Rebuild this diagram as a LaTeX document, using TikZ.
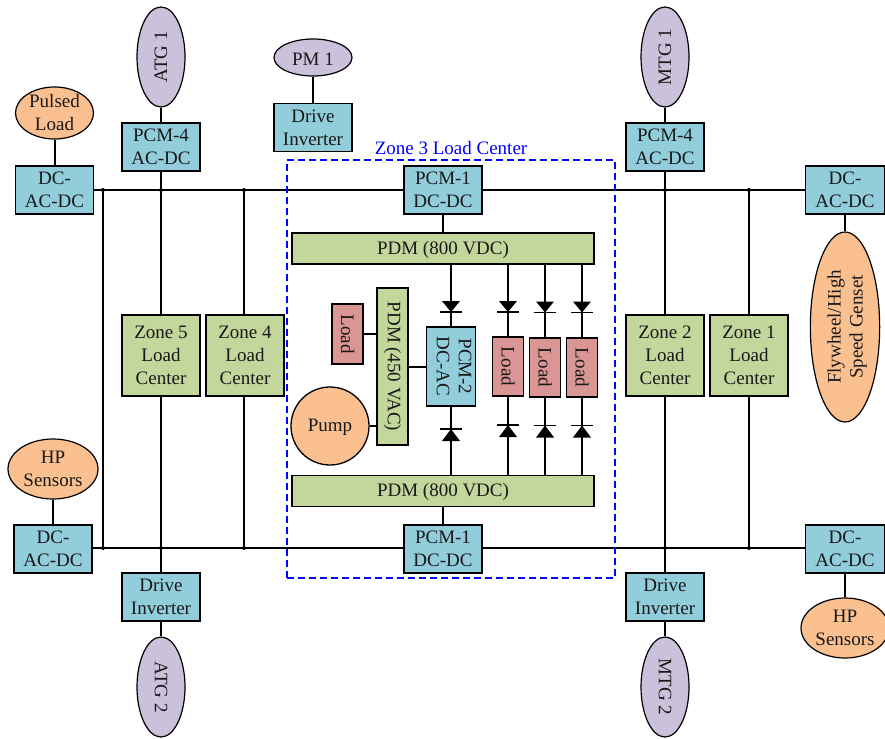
\documentclass[tikz,border=0pt]{standalone}
\usepackage{fontspec}
\setmainfont{Liberation Serif}
\usetikzlibrary{shapes.geometric}
\definecolor{teal1}{HTML}{92CDDC}
\definecolor{green1}{HTML}{C3D69B}
\definecolor{orange1}{HTML}{FAC090}
\definecolor{purple1}{HTML}{CCC1DA}
\definecolor{red1}{HTML}{D99694}
\tikzset{
  txt/.style={font=\fontsize{19}{23}\selectfont,align=center,inner sep=0pt,text=black!90},
  lowered/.style={execute at begin node={\rule{0pt}{15.5pt}}},
  box/.style={txt,draw=black,line width=1.9pt,minimum width=#1},
  boxt/.style={box=78pt,fill=teal1,minimum height=48pt,lowered},
  zonebox/.style={box=78pt,fill=green1,minimum height=81pt,lowered},
  pdm/.style={box=302pt,fill=green1,minimum height=31pt,lowered},
  loadbox/.style={box=31pt,fill=red1,minimum height=59pt},
  ell/.style={txt,ellipse,draw=black,line width=1.2pt,inner sep=0pt,minimum width=#1},
  gen/.style={ell=48pt,fill=purple1,minimum height=100pt},
  wire/.style={draw=black,line width=2pt},
}
\newcommand{\diodedn}[3]{%
  \coordinate (#1) at (#2,#3);
  \fill[black] (#2-9,#3-11) -- (#2+9,#3-11) -- (#2,#3) -- cycle;
  \draw[line width=1.4pt] (#2-11,#3) -- (#2+11,#3);}
\newcommand{\diodeup}[3]{%
  \coordinate (#1) at (#2,#3);
  \fill[black] (#2-9,#3+12) -- (#2+9,#3+12) -- (#2,#3) -- cycle;
  \draw[line width=1.4pt] (#2-11,#3) -- (#2+11,#3);}
\begin{document}
\begin{tikzpicture}[x=1pt,y=-1pt]
\useasboundingbox (0,0) rectangle (885,738);
% buses
\coordinate (busTL) at (94,190);
\coordinate (busTR) at (805,190);
\coordinate (busBL) at (92,548);
\coordinate (busBR) at (805,548);
\draw[wire] (busTL) -- (busTR);
\draw[wire] (busBL) -- (busBR);
% vertical ties
\coordinate (vAt) at (103,190); \coordinate (vAb) at (103,548);
\coordinate (vBt) at (244,190); \coordinate (vBb) at (244,548);
\coordinate (vCt) at (749,190); \coordinate (vCb) at (749,548);
\draw[wire] (vAt) -- (vAb);
\draw[wire] (vBt) -- (vBb);
\draw[wire] (vCt) -- (vCb);
\coordinate (vDt) at (161,190); \coordinate (vDb) at (161,548);
\coordinate (vEt) at (665,190); \coordinate (vEb) at (665,548);
\foreach \p in {vAt,vAb,vBt,vBb,vCt,vCb,vDt,vDb,vEt,vEb} \fill (\p) circle (2);
% left
\node[ell=78pt,fill=orange1,minimum height=52pt,lowered] (pulsed) at (54.5,113) {Pulsed\\Load};
\node[boxt] (dcTL) at (54.5,190) {DC-\\AC-DC};
\draw[wire] (pulsed.south) -- (dcTL.north);
\node[gen] (atg1) at (161,57) {\rotatebox{90}{ATG 1}};
\node[boxt] (pcm4L) at (161,147) {PCM-4\\AC-DC};
\node[zonebox] (z5) at (161,355.5) {Zone 5\\Load\\Center};
\node[boxt] (diL) at (161,597) {Drive\\Inverter};
\node[gen] (atg2) at (161,687) {\rotatebox{-90}{ATG 2}};
\draw[wire] (atg1.south) -- (pcm4L.north);
\draw[wire] (pcm4L.south) -- (z5.north);
\draw[wire] (z5.south) -- (diL.north);
\draw[wire] (diL.south) -- (atg2.north);
\node[zonebox] (z4) at (245,355.5) {Zone 4\\Load\\Center};
\node[ell=90pt,fill=orange1,minimum height=60pt,lowered] (hpL) at (53,469) {HP\\Sensors};
\node[boxt] (dcBL) at (53,549) {DC-\\AC-DC};
\draw[wire] (hpL.south) -- (dcBL.north);
% PM
\node[ell=78pt,fill=purple1,minimum height=37pt,lowered] (pm1) at (313,57.5) {PM 1};
\node[boxt] (diPM) at (313,127.5) {Drive\\Inverter};
\draw[wire] (pm1.south) -- (diPM.north);
% right
\node[gen] (mtg1) at (665,57) {\rotatebox{90}{MTG 1}};
\node[boxt] (pcm4R) at (665,147) {PCM-4\\AC-DC};
\node[zonebox] (z2) at (665,355.5) {Zone 2\\Load\\Center};
\node[boxt] (diR) at (665,597) {Drive\\Inverter};
\node[gen] (mtg2) at (665,687) {\rotatebox{-90}{MTG 2}};
\draw[wire] (mtg1.south) -- (pcm4R.north);
\draw[wire] (pcm4R.south) -- (z2.north);
\draw[wire] (z2.south) -- (diR.north);
\draw[wire] (diR.south) -- (mtg2.north);
\node[zonebox] (z1) at (749,355.5) {Zone 1\\Load\\Center};
\node[boxt,minimum width=79pt] (dcTR) at (845,190) {DC-\\AC-DC};
\node[ell=48pt,fill=orange1,minimum height=190pt] (fly) at (845,327) {\hspace*{4pt}\rotatebox{90}{\begin{tabular}{@{}c@{}}Flywheel/High\\[-1pt]Speed Genset\end{tabular}}};
\draw[wire] (dcTR.south) -- (fly.north);
\node[boxt,minimum width=79pt] (dcBR) at (845,549) {DC-\\AC-DC};
\node[ell=88pt,fill=orange1,minimum height=60pt,lowered] (hpR) at (845,628) {HP\\Sensors};
\draw[wire] (dcBR.south) -- (hpR.north);
% zone 3
\node[draw=blue,line width=1.5pt,dash pattern=on 7pt off 4pt,minimum width=328pt,minimum height=418pt,inner sep=0pt] (zone3) at (451,369) {};
\node[txt,text=blue,anchor=south] (zone3lab) at (451,154.5) {Zone 3 Load Center};
\node[boxt] (pcm1T) at (443,190) {PCM-1\\DC-DC};
\node[boxt] (pcm1B) at (443,549) {PCM-1\\DC-DC};
\node[pdm] (pdmT) at (443,248.5) {PDM (800 VDC)};
\node[pdm] (pdmB) at (443,491) {PDM (800 VDC)};
\draw[wire] (pcm1T.south) -- (pdmT.north -| pcm1T.south);
\draw[wire] (pcm1B.north) -- (pdmB.south -| pcm1B.north);
\node[box=31pt,fill=green1,minimum height=157pt] (pdm450) at (392.5,366.5) {\rotatebox{-90}{PDM (450 VAC)}};
\node[loadbox,minimum height=60pt] (load0) at (347.5,334) {\rotatebox{-90}{Load}};
\node[circle,draw=black,line width=1.3pt,fill=orange1,minimum size=78pt,txt,lowered] (pump) at (330,426) {Pump};
\node[box=49pt,fill=teal1,minimum height=79pt] (pcm2) at (451,366.5) {\hspace*{3pt}\rotatebox{-90}{\begin{tabular}{@{}c@{}}PCM-2\\[-1pt]DC-AC\end{tabular}}};
\node[loadbox] (load1) at (508,366.5) {\rotatebox{-90}{Load}};
\node[loadbox] (load2) at (545,367.5) {\rotatebox{-90}{Load}};
\node[loadbox] (load3) at (582,367.5) {\rotatebox{-90}{Load}};
\draw[wire] (load0.east) -- (pdm450.west |- load0.east);
\draw[wire] (pdm450.east) -- (pcm2.west);
\draw[wire] (pump.east) -- (pdm450.west |- pump.east);
\draw[wire] (pdmT.south -| pcm2.north) -- (pcm2.north);
\draw[wire] (pcm2.south) -- (pdmB.north -| pcm2.south);
\foreach \l in {load1,load2,load3}{
  \draw[wire] (pdmT.south -| \l.north) -- (\l.north);
  \draw[wire] (\l.south) -- (pdmB.north -| \l.south);
}
\diodedn{d0}{451}{312}
\diodeup{d1}{451}{429}
\diodedn{d2}{508}{312}
\diodeup{d3}{508}{425}
\diodedn{d4}{545}{312.5}
\diodeup{d5}{545}{425.5}
\diodedn{d6}{582}{312.5}
\diodeup{d7}{582}{425.5}
\end{tikzpicture}
\end{document}
